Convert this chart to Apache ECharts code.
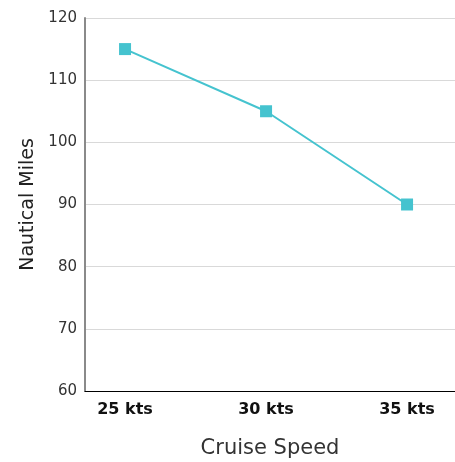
<!DOCTYPE html>
<html>
<head>
<meta charset="utf-8">
<script src="https://cdn.jsdelivr.net/npm/echarts@6/dist/echarts.min.js"></script>
<style>
  html, body { margin: 0; padding: 0; background: #fff; }
  #chart { width: 455px; height: 462px; }
</style>
</head>
<body>
<div id="chart"></div>
<script>
// data
const categories = ['25 kts', '30 kts', '35 kts'];
const miles = [115, 105, 90];
const yTicks = [60, 70, 80, 90, 100, 110, 120];

const font = 'DejaVu Sans';
let myChart = echarts.init(document.getElementById('chart'));

let option = {
  animation: false,
  grid: { left: 85, right: 0, top: 18, bottom: 71, outerBoundsMode: 'none' },
  xAxis: {
    type: 'value',
    min: -0.284,
    max: 2.34,
    name: 'Cruise Speed',
    nameLocation: 'middle',
    nameGap: 47,
    nameTextStyle: { fontFamily: font, fontSize: 21, color: '#333' },
    axisLine: { show: true, lineStyle: { color: '#000', width: 1 } },
    axisTick: { show: false },
    splitLine: { show: false },
    axisLabel: {
      customValues: categories.map((c, i) => i),
      formatter: v => categories[Math.round(v)],
      fontFamily: font,
      fontSize: 16,
      fontWeight: 'bold',
      color: '#111',
      margin: 11
    }
  },
  yAxis: {
    type: 'value',
    min: yTicks[0],
    max: yTicks[yTicks.length - 1],
    interval: 10,
    name: 'Nautical Miles',
    nameLocation: 'middle',
    nameGap: 43,
    nameTextStyle: { fontFamily: font, fontSize: 19, color: '#222' },
    axisLine: { show: true, onZero: false, lineStyle: { color: '#8a8a8a', width: 2 } },
    axisTick: { show: false },
    splitLine: { show: true, lineStyle: { color: '#d9d9d9', width: 1 } },
    axisLabel: { fontFamily: font, fontSize: 15, color: '#333', margin: 8 }
  },
  series: [{
    type: 'line',
    data: miles.map((v, i) => [i, v]),
    symbol: 'rect',
    symbolSize: 12,
    lineStyle: { color: '#45c3cf', width: 2 },
    itemStyle: { color: '#45c3cf' }
  }]
};
myChart.setOption(option);
</script>
</body>
</html>
